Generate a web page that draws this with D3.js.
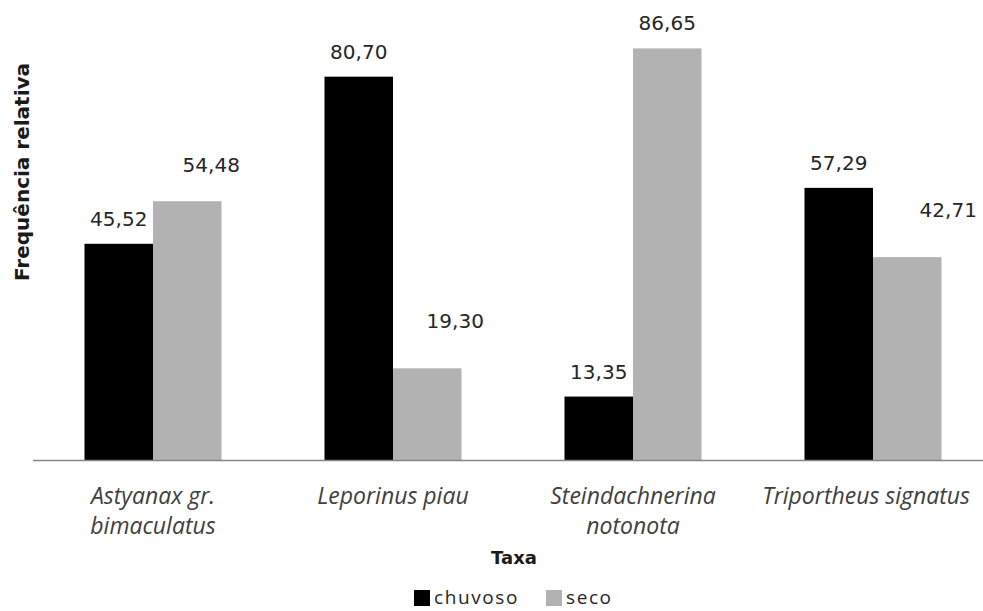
<!DOCTYPE html>
<html>
<head>
<meta charset="utf-8">
<script src="https://cdn.jsdelivr.net/npm/d3@7"></script>
<style>
  html, body { margin: 0; padding: 0; background: #fff; }
  svg { display: block; }
</style>
</head>
<body>
<svg id="chart" width="983" height="611"></svg>
<script>
// Relative frequency (%) of each taxon per season
const taxa = ["Astyanax gr. bimaculatus", "Leporinus piau", "Steindachnerina notonota", "Triportheus signatus"];
const seasons = ["chuvoso", "seco"];
const chuvoso = [45.52, 80.70, 13.35, 57.29];
const seco = [54.48, 19.30, 86.65, 42.71];
const seriesValues = { chuvoso, seco };

// Layout / style
const W = 983, H = 611;
const colors = { chuvoso: "#000000", seco: "#b2b2b2" };
// label nudges for the "seco" value labels (dx, dy above bar top)
const secoLabelNudge = [[24, 29], [28, 40], [0, 18], [41, 40]];

const svg = d3.select("#chart");

const x = d3.scaleBand().domain(taxa).range([33, 993]).paddingInner(0.429).paddingOuter(0.2145);
const xs = d3.scaleBand().domain(seasons).range([0, x.bandwidth()]);
const y = d3.scaleLinear().domain([0, 100]).range([460, -15]);

const fmt = v => d3.format(".2f")(v).replace(".", ",");

// bars
const groups = svg.append("g").selectAll("g")
  .data(taxa).join("g")
  .attr("transform", d => `translate(${x(d)},0)`);

groups.selectAll("rect")
  .data((d, i) => seasons.map(s => ({ s, v: seriesValues[s][i], i })))
  .join("rect")
  .attr("x", d => xs(d.s))
  .attr("y", d => y(d.v))
  .attr("width", xs.bandwidth())
  .attr("height", d => y(0) - y(d.v))
  .attr("fill", d => colors[d.s]);

// value labels
groups.selectAll("text.val")
  .data((d, i) => seasons.map(s => ({ s, v: seriesValues[s][i], i })))
  .join("text")
  .attr("class", "val")
  .attr("x", d => xs(d.s) + xs.bandwidth() / 2 + (d.s === "seco" ? secoLabelNudge[d.i][0] : 0))
  .attr("y", d => y(d.v) - (d.s === "seco" ? secoLabelNudge[d.i][1] : 18))
  .attr("text-anchor", "middle")
  .attr("font-family", "DejaVu Sans")
  .attr("font-size", 20)
  .attr("fill", "#262626")
  .text(d => fmt(d.v));

// category axis
const xAxis = svg.append("g").attr("transform", "translate(0,460)");
xAxis.append("line")
  .attr("x1", 33).attr("x2", W)
  .attr("y1", 0.5).attr("y2", 0.5)
  .attr("stroke", "#868686").attr("stroke-width", 1.5);

// wrap category names to fit the band
const measure = svg.append("text")
  .attr("font-family", "Open Sans").attr("font-style", "italic").attr("font-size", 23);
function wrap(name, maxW) {
  const words = name.split(" ");
  const lines = [];
  let cur = "";
  words.forEach(w => {
    const test = cur ? cur + " " + w : w;
    measure.text(test);
    if (cur && measure.node().getComputedTextLength() > maxW) {
      lines.push(cur);
      cur = w;
    } else cur = test;
  });
  if (cur) lines.push(cur);
  return lines;
}

taxa.forEach(t => {
  const lines = wrap(t, 225);
  let cx = x(t) + x.bandwidth() / 2;
  lines.forEach(l => {
    measure.text(l);
    const w = measure.node().getComputedTextLength();
    if (cx + w / 2 > W - 13) cx = W - 13 - w / 2;
  });
  const txt = svg.append("text")
    .attr("text-anchor", "middle")
    .attr("font-family", "Open Sans")
    .attr("font-style", "italic")
    .attr("font-size", 23)
    .attr("fill", "#404040");
  lines.forEach((l, k) => {
    txt.append("tspan").attr("x", cx).attr("y", 504 + k * 30).text(l);
  });
});
measure.remove();

// axis titles
svg.append("text")
  .attr("x", 514).attr("y", 564)
  .attr("text-anchor", "middle")
  .attr("font-family", "DejaVu Sans").attr("font-weight", "bold").attr("font-size", 18)
  .attr("fill", "#1a1a1a")
  .text("Taxa");

svg.append("text")
  .attr("transform", "translate(29,172) rotate(-90)")
  .attr("text-anchor", "middle")
  .attr("font-family", "DejaVu Sans").attr("font-weight", "bold").attr("font-size", 20)
  .attr("fill", "#1a1a1a")
  .text("Frequência relativa");

// legend
const legendX = [414, 546];
const legend = svg.append("g").selectAll("g")
  .data(seasons).join("g")
  .attr("transform", (d, i) => `translate(${legendX[i]},590)`);
legend.append("rect")
  .attr("width", 16).attr("height", 16)
  .attr("fill", d => colors[d]);
legend.append("text")
  .attr("x", 20).attr("y", 14)
  .attr("font-family", "Open Sans").attr("font-size", 19)
  .attr("letter-spacing", 1.6)
  .attr("fill", "#262626")
  .text(d => d);
</script>
</body>
</html>
